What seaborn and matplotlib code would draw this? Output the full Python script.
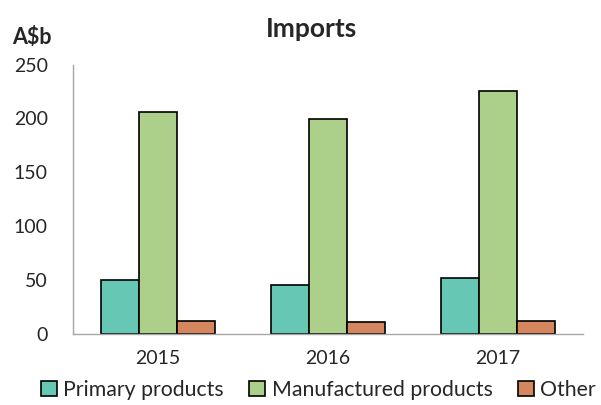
import matplotlib
matplotlib.use("Agg")
import matplotlib.pyplot as plt
import seaborn as sns
import pandas as pd
from matplotlib.ticker import FixedLocator, NullFormatter

years = ["2015", "2016", "2017"]
categories = ["Primary products", "Manufactured products", "Other"]
primary = [49.5, 45, 51.5]
manufactured = [206, 199.5, 225.5]
other = [11.5, 11, 11.5]
colors = ["#66C7B4", "#ACD08A", "#D4875E"]
yticks = [0, 50, 100, 150, 200, 250]

rows = []
for cat, vals in zip(categories, [primary, manufactured, other]):
    for y, v in zip(years, vals):
        rows.append({"Year": y, "Category": cat, "Value": v})
df = pd.DataFrame(rows)

sns.set_style("white")
plt.rcParams["font.family"] = ["Lato", "DejaVu Sans"]

fig = plt.figure(figsize=(6.01, 4.05), dpi=100)
ax = fig.add_axes([0.121, 0.176, 0.849, 0.6645])

sns.barplot(data=df, x="Year", y="Value", hue="Category", order=years,
            hue_order=categories, palette=colors, width=0.67, gap=0,
            edgecolor="black", linewidth=1.2, saturation=1, ax=ax)

ax.set_ylim(0, 250)
ax.set_xlim(-0.5, 2.5)
ax.set_yticks(yticks)
ax.set_yticklabels([str(t) for t in yticks], fontsize=14)
ax.set_xlabel("")
ax.set_ylabel("")

# category boundary ticks (major) and labels at centers (minor)
ax.xaxis.set_major_locator(FixedLocator([-0.5, 0.5, 1.5, 2.5]))
ax.xaxis.set_major_formatter(NullFormatter())
ax.xaxis.set_minor_locator(FixedLocator([0, 1, 2]))
ax.set_xticklabels(years, minor=True, fontsize=14)
ax.tick_params(axis="x", which="major", length=6, width=1, color="#A6A6A6", direction="out")
ax.tick_params(axis="x", which="minor", length=0, pad=11.5)
ax.tick_params(axis="y", length=6, width=1, color="#A6A6A6", direction="out", pad=12)

for s in ["top", "right"]:
    ax.spines[s].set_visible(False)
for s in ["left", "bottom"]:
    ax.spines[s].set_color("#A6A6A6")
    ax.spines[s].set_linewidth(1)
ax.grid(False)

handles, labels = ax.get_legend_handles_labels()
ax.legend_.remove()
fig.legend(handles, labels, loc="lower center", bbox_to_anchor=(0.53, -0.035),
           ncol=3, frameon=False, fontsize=15.3, handlelength=0.75, handleheight=0.75,
           handletextpad=0.3, columnspacing=1.2)

fig.text(311 / 601, 1 - 29 / 405, "Imports", ha="center", va="center",
         fontsize=19, fontweight="bold")
fig.text(12 / 601, 1 - 37 / 405, "A$b", ha="left", va="center",
         fontsize=15.5, fontweight="bold")

fig.savefig("out.png", dpi=100)
